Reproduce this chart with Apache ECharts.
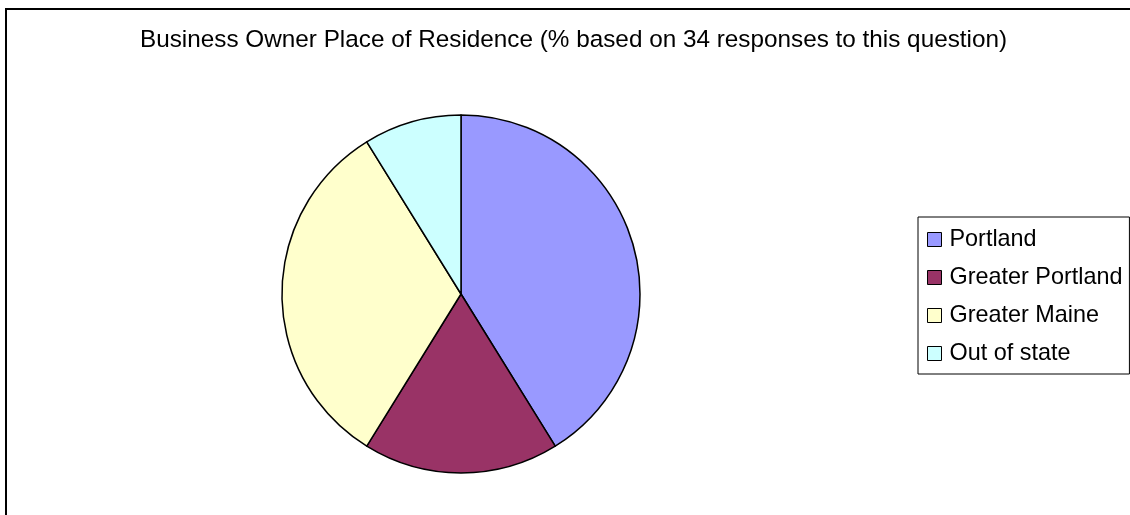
<!DOCTYPE html>
<html>
<head>
<meta charset="utf-8">
<script src="https://cdn.jsdelivr.net/npm/echarts@6/dist/echarts.min.js"></script>
<style>
  html, body { margin: 0; padding: 0; background: #fff; }
  #residenceChart { width: 1130px; height: 515px; }
</style>
</head>
<body>
<div id="residenceChart"></div>
<script>
  // categories and response counts (34 responses total)
  var places = ['Portland', 'Greater Portland', 'Greater Maine', 'Out of state'];
  var responses = [14, 6, 11, 3];
  var sliceColors = ['#9999FF', '#993366', '#FFFFCC', '#CCFFFF'];

  var residenceChart = echarts.init(document.getElementById('residenceChart'));

  var pieData = [];
  for (var i = 0; i < places.length; i++) {
    pieData.push({ name: places[i], value: responses[i], itemStyle: { color: sliceColors[i] } });
  }

  var option = {
    animation: false,
    textStyle: { fontFamily: 'Liberation Sans, Arial, sans-serif' },
    title: {
      text: 'Business Owner Place of Residence (% based on 34 responses to this question)',
      left: 140,
      top: 28,
      padding: 0,
      textStyle: { fontSize: 24.3, fontWeight: 'normal', color: '#000', fontFamily: 'Liberation Sans, Arial, sans-serif' }
    },
    legend: {
      orient: 'vertical',
      left: 918,
      top: 217,
      padding: [11, 7, 9, 9],
      itemGap: 15,
      itemWidth: 14,
      itemHeight: 14,
      icon: 'rect',
      borderColor: '#000',
      borderWidth: 1,
      selectedMode: false,
      itemStyle: { borderColor: '#000', borderWidth: 1 },
      textStyle: { fontSize: 23.4, color: '#000', padding: [0, 0, 0, 3], fontFamily: 'Liberation Sans, Arial, sans-serif' },
      data: places
    },
    graphic: [{
      type: 'rect',
      shape: { x: 6, y: 9, width: 1140, height: 520 },
      style: { fill: 'none', stroke: '#000', lineWidth: 2 }
    }],
    series: [{
      type: 'pie',
      center: [461, 294],
      radius: 179,
      startAngle: 90,
      clockwise: true,
      label: { show: false },
      labelLine: { show: false },
      emphasis: { disabled: true },
      itemStyle: { borderColor: '#000', borderWidth: 1.5 },
      data: pieData
    }]
  };

  residenceChart.setOption(option);
</script>
</body>
</html>
